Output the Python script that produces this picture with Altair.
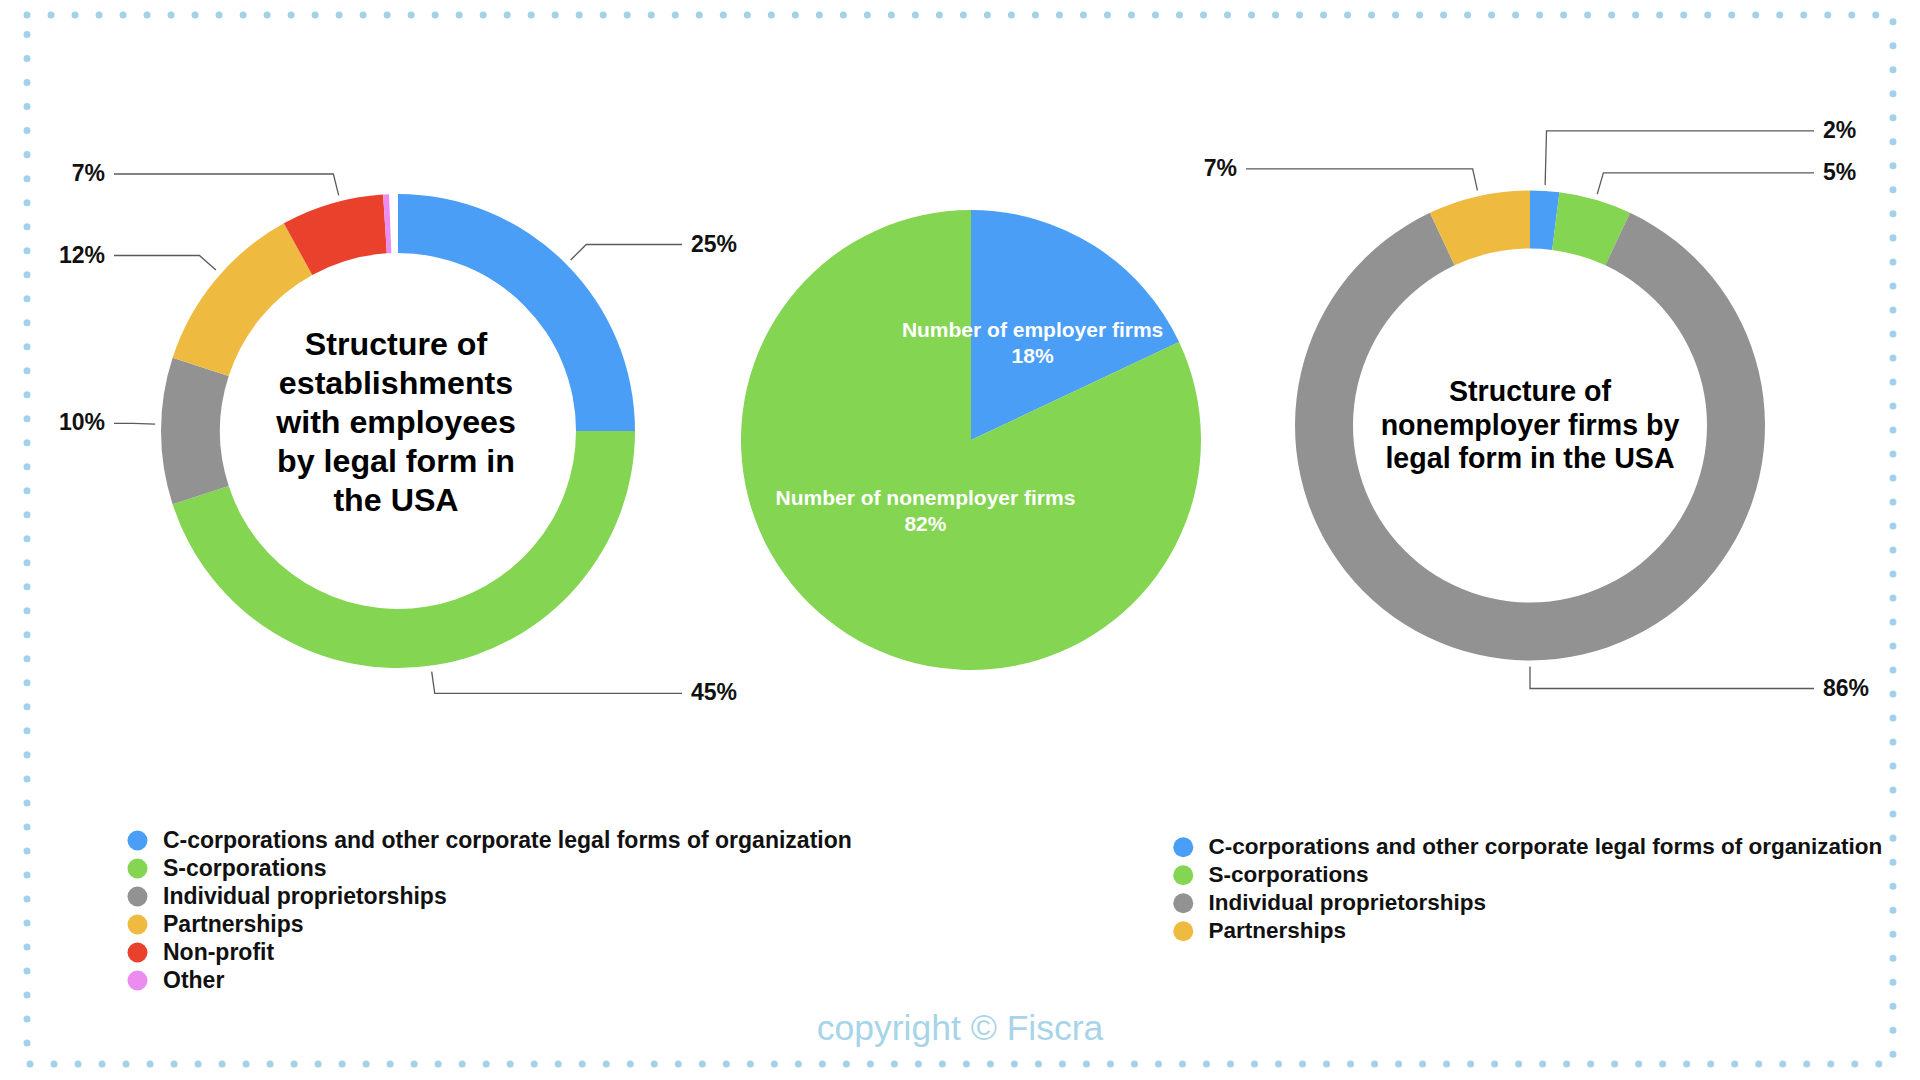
import math
import altair as alt
import pandas as pd

# ---------------- data ----------------
emp_forms = [
    "C-corporations and other corporate legal forms of organization",
    "S-corporations",
    "Individual proprietorships",
    "Partnerships",
    "Non-profit",
    "Other",
]
emp_values = [25, 45, 10, 12, 7, 0.4]

nonemp_forms = emp_forms[:4]
nonemp_values = [2, 5, 86, 7]

firm_types = ["Number of employer firms", "Number of nonemployer firms"]
firm_values = [18, 82]

title_left = ["Structure of", "establishments", "with employees", "by legal form in", "the USA"]
title_right = ["Structure of", "nonemployer firms by", "legal form in the USA"]
copyright_text = "copyright © Fiscra"

# ---------------- style / layout ----------------
form_colors = ["#4a9ef5", "#83d552", "#929292", "#efba40", "#e9412b", "#ec8cf0"]
firm_colors = ["#4a9ef5", "#83d552"]
FONT = "Liberation Sans"
W, H = 1866, 1049
LEFT = dict(cx=371, cy=416, r_out=237, r_in=178)
PIE = dict(cx=944, cy=425, r=230)
RIGHT = dict(cx=1503, cy=410.5, r_out=235, r_in=177)
COL_OFF = 284


def leader_table(values, c, chart_id):
    total = float(sum(values))
    rows = []
    cum = 0.0
    for i, v in enumerate(values):
        mid = (cum + v / 2.0) / total * 2 * math.pi
        cum += v
        if v < 2:
            continue
        s, co = math.sin(mid), math.cos(mid)
        side = 1 if s > -1e-6 else -1
        p1 = (c["cx"] + (c["r_out"] + 6) * s, c["cy"] - (c["r_out"] + 6) * co)
        p2 = (c["cx"] + (c["r_out"] + 28) * s, c["cy"] - (c["r_out"] + 28) * co)
        rows.append(dict(i=i, v=v, side=side, p1=p1, p2=p2, ly=p2[1]))
    # simple collision avoidance: push the upper label up
    for sd in (1, -1):
        grp = sorted([r for r in rows if r["side"] == sd], key=lambda r: r["ly"], reverse=True)
        for a, b in zip(grp, grp[1:]):
            if a["ly"] - b["ly"] < 42:
                b["ly"] = a["ly"] - 42
    lines, labels = [], []
    for r in rows:
        lid = f"{chart_id}-{r['i']}"
        xcol = c["cx"] + r["side"] * COL_OFF
        pts = [r["p1"], (r["p2"][0], r["ly"]), (xcol, r["ly"])]
        for k, (px, py) in enumerate(pts):
            lines.append(dict(lid=lid, seg=k, px=px, py=py))
        labels.append(dict(txt=f"{r['v']}%", side=r["side"],
                           lx=xcol + r["side"] * 9, ly=r["ly"]))
    return lines, labels


def donut(forms, values, c, lx, ly, fsize, row_pad):
    df = pd.DataFrame({"form": forms, "value": values, "idx": list(range(len(forms)))})
    return alt.Chart(df).mark_arc(innerRadius=c["r_in"], outerRadius=c["r_out"]).encode(
        theta=alt.Theta("value:Q", stack=True),
        order=alt.Order("idx:Q"),
        color=alt.Color(
            "form:N",
            scale=alt.Scale(domain=forms, range=form_colors[: len(forms)]),
            legend=alt.Legend(
                title=None, orient="none", legendX=lx, legendY=ly,
                symbolType="circle", symbolSize=400, symbolStrokeWidth=0,
                labelFont=FONT, labelFontSize=fsize, labelFontWeight="bold",
                labelColor="#111111", labelLimit=1000, labelOffset=14,
                rowPadding=row_pad, padding=0,
            ),
        ),
        x=alt.value(c["cx"]),
        y=alt.value(c["cy"]),
    )


left_arc = donut(emp_forms, emp_values, LEFT, 99, 814, 23, 4.0)
right_arc = donut(nonemp_forms, nonemp_values, RIGHT, 1145, 821, 22.5, 5.0)

pie_df = pd.DataFrame({"firm": firm_types, "value": firm_values, "idx": [0, 1]})
pie_base = alt.Chart(pie_df).encode(
    theta=alt.Theta("value:Q", stack=True),
    order=alt.Order("idx:Q"),
    x=alt.value(PIE["cx"]),
    y=alt.value(PIE["cy"]),
)
pie_arc = pie_base.mark_arc(outerRadius=PIE["r"]).encode(
    color=alt.Color("firm:N", scale=alt.Scale(domain=firm_types, range=firm_colors), legend=None)
)
pie_text = pie_base.transform_calculate(
    lab="datum.firm + '\\n' + datum.value + '%'"
).mark_text(
    radius=100, dx=8, dy=-25, font=FONT, fontSize=21, fontWeight="bold", color="white",
    lineBreak="\n", lineHeight=26, align="center", baseline="middle",
).encode(text="lab:N")

l_lines, l_labels = leader_table(emp_values, LEFT, "L")
r_lines, r_labels = leader_table(nonemp_values, RIGHT, "R")
lines_df = pd.DataFrame(l_lines + r_lines)
labels_df = pd.DataFrame(l_labels + r_labels)

leaders = alt.Chart(lines_df).mark_line(color="#5a5a5a", strokeWidth=1.3).encode(
    x=alt.X("px:Q", scale=None, axis=None),
    y=alt.Y("py:Q", scale=None, axis=None),
    detail="lid:N",
    order="seg:Q",
)
lab_base = alt.Chart(labels_df).encode(
    x=alt.X("lx:Q", scale=None, axis=None),
    y=alt.Y("ly:Q", scale=None, axis=None),
    text="txt:N",
)
lab_right = lab_base.transform_filter("datum.side > 0").mark_text(
    align="left", baseline="middle", font=FONT, fontSize=23, fontWeight="bold", color="#111111")
lab_left = lab_base.transform_filter("datum.side < 0").mark_text(
    align="right", baseline="middle", font=FONT, fontSize=23, fontWeight="bold", color="#111111")

titles_df = pd.DataFrame({
    "t": ["\n".join(title_left), "\n".join(title_right)],
    "which": ["L", "R"],
})
title_l = alt.Chart(titles_df).transform_filter("datum.which == 'L'").mark_text(
    font=FONT, fontSize=32.2, fontWeight="bold", color="#000000", lineBreak="\n",
    lineHeight=39, align="center", baseline="middle",
).encode(text="t:N", x=alt.value(LEFT["cx"] - 2), y=alt.value(330))
title_r = alt.Chart(titles_df).transform_filter("datum.which == 'R'").mark_text(
    font=FONT, fontSize=28.6, fontWeight="bold", color="#000000", lineBreak="\n",
    lineHeight=33.5, align="center", baseline="middle",
).encode(text="t:N", x=alt.value(RIGHT["cx"]), y=alt.value(377))

copy_df = pd.DataFrame({"t": [copyright_text]})
copy_txt = alt.Chart(copy_df).mark_text(
    font=FONT, fontSize=35.5, color="#a7d4e9", align="center", baseline="middle",
).encode(text="t:N", x=alt.value(933), y=alt.value(1014))

chart = alt.layer(
    left_arc, right_arc, pie_arc, pie_text, leaders, lab_right, lab_left,
    title_l, title_r, copy_txt,
).resolve_scale(color="independent").properties(
    width=W, height=H,
    padding={"left": 27, "top": 15, "right": 27, "bottom": 16},
    autosize=alt.AutoSizeParams(type="none"),
    background="white",
).configure_view(
    stroke="#a3d2e8", strokeWidth=7, strokeDash=[0.01, 24], strokeCap="round",
)

chart.save("out.html", embed_options={"renderer": "svg", "actions": False})
